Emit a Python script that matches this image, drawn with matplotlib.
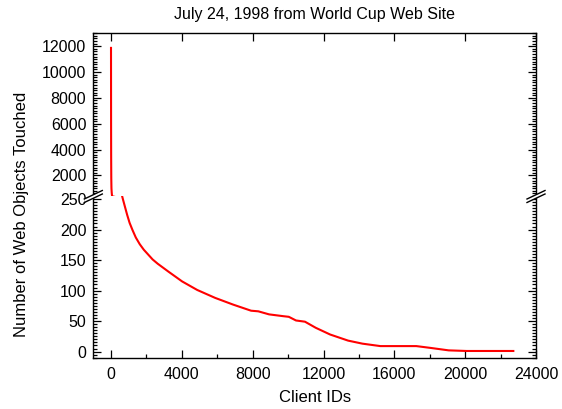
import matplotlib
matplotlib.use("Agg")
import matplotlib.pyplot as plt
from matplotlib.ticker import MultipleLocator
from matplotlib.lines import Line2D
from matplotlib.patches import Polygon

plt.rcParams['font.family'] = ['Liberation Sans', 'DejaVu Sans']

# Ranked clients vs. number of distinct objects they touched
client_ids = [0, 4, 8, 15, 25, 40, 60, 250, 450, 600, 670, 800, 913, 1050,
              1217, 1400, 1623, 1850, 2100, 2350, 2637, 3245, 4016, 4868, 5882,
              6897, 7911, 8316, 8925, 9736, 10040, 10446, 10953, 11562, 12373,
              13387, 14199, 15213, 17241, 18053, 19067, 20081, 22779]
objects_touched = [11950, 6000, 3500, 1800, 1000, 650, 380, 320, 280, 258, 250,
                   236, 224, 211, 199, 187, 176, 167, 159, 151, 144, 131, 115,
                   101, 88, 77, 67, 66, 61, 58, 57, 51, 49, 39, 28, 18, 13, 9,
                   9, 6, 2, 1, 1]

W, H = 562, 409
fig = plt.figure(figsize=(W / 100, H / 100), dpi=100)

left, right = 93.3 / W, 536 / W
top, brk, bottom = 1 - 33.3 / H, 1 - 196 / H, 1 - 358.3 / H

ax_hi = fig.add_axes([left, brk, right - left, top - brk])
ax_lo = fig.add_axes([left, bottom, right - left, brk - bottom])

for ax in (ax_hi, ax_lo):
    ax.plot(client_ids, objects_touched, color='red', lw=1.5, solid_capstyle='butt')
    ax.set_xlim(-1000, 24000)
    for s in ax.spines.values():
        s.set_linewidth(1.0)
    ax.tick_params(which='both', direction='in', labelsize=11.5, width=0.9,
                   right=True, pad=5)
    ax.tick_params(which='major', length=6)
    ax.tick_params(which='minor', length=3)
    ax.xaxis.set_major_locator(MultipleLocator(4000))

ax_hi.set_ylim(400, 13000)
ax_hi.set_yticks([2000, 4000, 6000, 8000, 10000, 12000])
ax_hi.yaxis.set_minor_locator(MultipleLocator(200))
ax_hi.spines['bottom'].set_visible(False)
ax_hi.tick_params(axis='x', which='both', bottom=False, labelbottom=False, top=True)
ax_hi.tick_params(axis='x', which='minor', top=False)

ax_lo.set_ylim(-11, 255)
ax_lo.set_yticks([0, 50, 100, 150, 200, 250])
ax_lo.yaxis.set_minor_locator(MultipleLocator(5))
ax_lo.xaxis.set_minor_locator(MultipleLocator(2000))
ax_lo.spines['top'].set_visible(False)
ax_lo.tick_params(axis='x', which='both', top=False, pad=6)

# Axis break marks on both vertical spines
def px(x, y):
    return x / W, 1 - y / H

for xs in (93.3, 536):
    a1, a2 = px(xs - 9, 199.0), px(xs + 9, 190.5)
    b1, b2 = px(xs - 9, 202.5), px(xs + 9, 194.0)
    gap = Polygon([a1, a2, b2, b1], closed=True, transform=fig.transFigure,
                  facecolor='white', edgecolor='none', zorder=10)
    fig.add_artist(gap)
    for p, q in ((a1, a2), (b1, b2)):
        fig.add_artist(Line2D([p[0], q[0]], [p[1], q[1]], transform=fig.transFigure,
                              color='black', lw=1.0, zorder=11))

fig.text((left + right) / 2, 1 - 15 / H, 'July 24, 1998 from World Cup Web Site',
         ha='center', va='center', fontsize=11.5)
fig.text((left + right) / 2, 1 - 398 / H, 'Client IDs',
         ha='center', va='center', fontsize=12)
fig.text(22 / W, 1 - 214 / H, 'Number of Web Objects Touched',
         ha='center', va='center', rotation=90, fontsize=12)

fig.savefig('out.png', dpi=100)
